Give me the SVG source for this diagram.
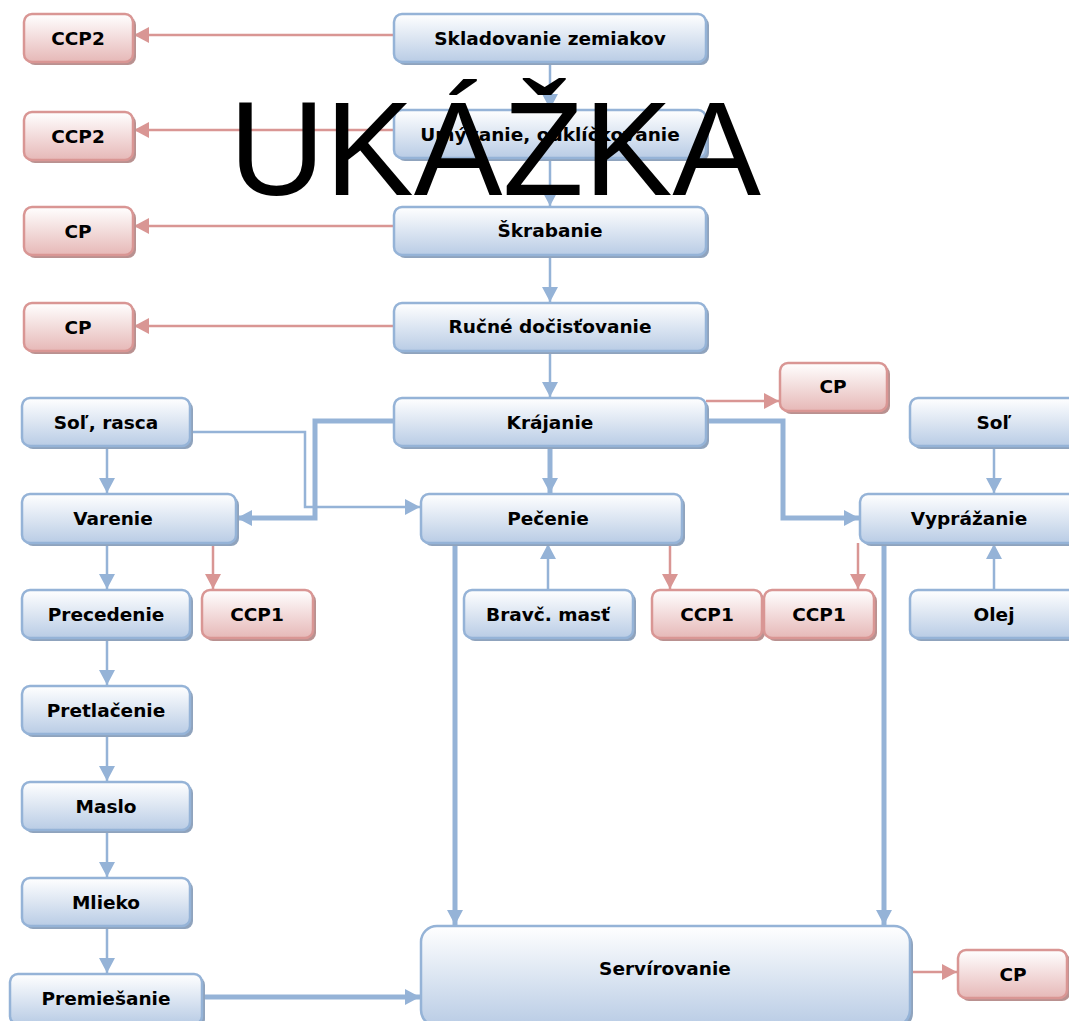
<svg xmlns="http://www.w3.org/2000/svg" width="1069" height="1021" viewBox="0 0 1069 1021">
  <defs>
    <linearGradient id="gBlue" x1="0" y1="0" x2="0" y2="1">
      <stop offset="0" stop-color="#ffffff"/>
      <stop offset="1" stop-color="#b9cce5"/>
    </linearGradient>
    <linearGradient id="gRed" x1="0" y1="0" x2="0" y2="1">
      <stop offset="0" stop-color="#ffffff"/>
      <stop offset="1" stop-color="#e6b8b7"/>
    </linearGradient>
    <marker id="aBlue" markerUnits="userSpaceOnUse" markerWidth="16" markerHeight="16" refX="15" refY="8" orient="auto">
      <path d="M0,0 L15,8 L0,16 z" fill="#95b3d7"/>
    </marker>
    <marker id="aRed" markerUnits="userSpaceOnUse" markerWidth="16" markerHeight="16" refX="15" refY="8" orient="auto">
      <path d="M0,0 L15,8 L0,16 z" fill="#d99694"/>
    </marker>
  </defs>
  <style>
    .sb { fill: #8fa3bd; }
    .sr { fill: #b99190; }
    .b { fill: url(#gBlue); stroke: #95b3d7; stroke-width: 2.5; }
    .r { fill: url(#gRed); stroke: #d99694; stroke-width: 2.5; }
    text { font-family: "DejaVu Sans", Verdana, sans-serif; font-weight: bold; font-size: 18.5px; fill: #000; text-anchor: middle; }
    .cb { fill: none; stroke: #95b3d7; stroke-width: 2.5; }
    .ct { fill: none; stroke: #95b3d7; stroke-width: 5; }
    .cr { fill: none; stroke: #d99694; stroke-width: 2.5; }
    .wm { font-family: "Liberation Sans", Arial, sans-serif; font-weight: normal; font-size: 133px; }
  </style>

  <rect width="1069" height="1021" fill="#ffffff"/>

  <!-- connectors -->
  <g id="connectors">
    <!-- main chain -->
    <path class="cb" d="M550,62 V109" marker-end="url(#aBlue)"/>
    <path class="cb" d="M550,158 V206" marker-end="url(#aBlue)"/>
    <path class="cb" d="M550,255 V302" marker-end="url(#aBlue)"/>
    <path class="cb" d="M550,351 V397" marker-end="url(#aBlue)"/>
    <!-- control points on the left -->
    <path class="cr" d="M394,35 H134" marker-end="url(#aRed)"/>
    <path class="cr" d="M394,130 H134" marker-end="url(#aRed)"/>
    <path class="cr" d="M394,226 H134" marker-end="url(#aRed)"/>
    <path class="cr" d="M394,326 H134" marker-end="url(#aRed)"/>
    <!-- Krájanie -->
    <path class="cr" d="M706,401 H779" marker-end="url(#aRed)"/>
    <path class="ct" d="M550,446 V493" marker-end="url(#aBlue)"/>
    <path class="ct" d="M394,421 H315 V518 H237" marker-end="url(#aBlue)"/>
    <path class="ct" d="M706,421 H783 V518 H859" marker-end="url(#aBlue)"/>
    <!-- Soľ, rasca -->
    <path class="cb" d="M190,432 H305 V507 H420" marker-end="url(#aBlue)"/>
    <path class="cb" d="M107,446 V493" marker-end="url(#aBlue)"/>
    <!-- Varenie branch -->
    <path class="cb" d="M107,543 V589" marker-end="url(#aBlue)"/>
    <path class="cr" d="M213,543 V589" marker-end="url(#aRed)"/>
    <path class="cb" d="M107,638 V685" marker-end="url(#aBlue)"/>
    <path class="cb" d="M107,734 V781" marker-end="url(#aBlue)"/>
    <path class="cb" d="M107,830 V877" marker-end="url(#aBlue)"/>
    <path class="cb" d="M107,926 V973" marker-end="url(#aBlue)"/>
    <path class="ct" d="M202,997 H420" marker-end="url(#aBlue)"/>
    <!-- Pečenie -->
    <path class="cb" d="M548,590 V544" marker-end="url(#aBlue)"/>
    <path class="cr" d="M670,543 V589" marker-end="url(#aRed)"/>
    <path class="ct" d="M455,543 V925" marker-end="url(#aBlue)"/>
    <!-- Vyprážanie -->
    <path class="cb" d="M994,446 V493" marker-end="url(#aBlue)"/>
    <path class="cb" d="M994,590 V544" marker-end="url(#aBlue)"/>
    <path class="cr" d="M858,543 V589" marker-end="url(#aRed)"/>
    <path class="ct" d="M884,543 V925" marker-end="url(#aBlue)"/>
    <!-- Servírovanie -->
    <path class="cr" d="M910,972 H957" marker-end="url(#aRed)"/>
  </g>

  <!-- process steps -->
  <g id="skladovanie"><rect class="sb" x="397" y="17" width="312" height="48" rx="8"/><rect class="b" x="394" y="14" width="312" height="48" rx="8"/><text x="550" y="45">Skladovanie zemiakov</text></g>
  <g id="umyvanie"><rect class="sb" x="397" y="113" width="312" height="48" rx="8"/><rect class="b" x="394" y="110" width="312" height="48" rx="8"/><text x="550" y="141">Umývanie, odklíčkovanie</text></g>
  <g id="skrabanie"><rect class="sb" x="397" y="210" width="312" height="48" rx="8"/><rect class="b" x="394" y="207" width="312" height="48" rx="8"/><text x="550" y="237">Škrabanie</text></g>
  <g id="docistovanie"><rect class="sb" x="397" y="306" width="312" height="48" rx="8"/><rect class="b" x="394" y="303" width="312" height="48" rx="8"/><text x="550" y="333">Ručné dočisťovanie</text></g>
  <g id="krajanie"><rect class="sb" x="397" y="401" width="312" height="48" rx="8"/><rect class="b" x="394" y="398" width="312" height="48" rx="8"/><text x="550" y="429">Krájanie</text></g>
  <g id="pecenie"><rect class="sb" x="424" y="497" width="261" height="49" rx="8"/><rect class="b" x="421" y="494" width="261" height="49" rx="8"/><text x="548" y="525">Pečenie</text></g>
  <g id="vyprazanie"><rect class="sb" x="863" y="497" width="218" height="49" rx="8"/><rect class="b" x="860" y="494" width="218" height="49" rx="8"/><text x="969" y="525">Vyprážanie</text></g>
  <g id="sol"><rect class="sb" x="913" y="401" width="168" height="48" rx="8"/><rect class="b" x="910" y="398" width="168" height="48" rx="8"/><text x="994" y="429">Soľ</text></g>
  <g id="olej"><rect class="sb" x="913" y="593" width="168" height="48" rx="8"/><rect class="b" x="910" y="590" width="168" height="48" rx="8"/><text x="994" y="621">Olej</text></g>
  <g id="bravcova-mast"><rect class="sb" x="467" y="593" width="169" height="48" rx="8"/><rect class="b" x="464" y="590" width="169" height="48" rx="8"/><text x="548" y="621">Bravč. masť</text></g>
  <g id="sol-rasca"><rect class="sb" x="25" y="401" width="168" height="48" rx="8"/><rect class="b" x="22" y="398" width="168" height="48" rx="8"/><text x="106" y="429">Soľ, rasca</text></g>
  <g id="varenie"><rect class="sb" x="25" y="497" width="214" height="49" rx="8"/><rect class="b" x="22" y="494" width="214" height="49" rx="8"/><text x="113" y="525">Varenie</text></g>
  <g id="precedenie"><rect class="sb" x="25" y="593" width="168" height="48" rx="8"/><rect class="b" x="22" y="590" width="168" height="48" rx="8"/><text x="106" y="621">Precedenie</text></g>
  <g id="pretlacenie"><rect class="sb" x="25" y="689" width="168" height="48" rx="8"/><rect class="b" x="22" y="686" width="168" height="48" rx="8"/><text x="106" y="717">Pretlačenie</text></g>
  <g id="maslo"><rect class="sb" x="25" y="785" width="168" height="48" rx="8"/><rect class="b" x="22" y="782" width="168" height="48" rx="8"/><text x="106" y="813">Maslo</text></g>
  <g id="mlieko"><rect class="sb" x="25" y="881" width="168" height="48" rx="8"/><rect class="b" x="22" y="878" width="168" height="48" rx="8"/><text x="106" y="909">Mlieko</text></g>
  <g id="premiesanie"><rect class="sb" x="13" y="977" width="192" height="50" rx="8"/><rect class="b" x="10" y="974" width="192" height="50" rx="8"/><text x="106" y="1005">Premiešanie</text></g>
  <g id="servirovanie"><rect class="sb" x="424" y="929" width="489" height="100" rx="16"/><rect class="b" x="421" y="926" width="489" height="100" rx="16"/><text x="665" y="975">Servírovanie</text></g>

  <!-- control points -->
  <g id="ccp2-a"><rect class="sr" x="27" y="17" width="109" height="48" rx="8"/><rect class="r" x="24" y="14" width="109" height="48" rx="8"/><text x="78" y="45">CCP2</text></g>
  <g id="ccp2-b"><rect class="sr" x="27" y="115" width="109" height="48" rx="8"/><rect class="r" x="24" y="112" width="109" height="48" rx="8"/><text x="78" y="143">CCP2</text></g>
  <g id="cp-a"><rect class="sr" x="27" y="210" width="109" height="48" rx="8"/><rect class="r" x="24" y="207" width="109" height="48" rx="8"/><text x="78" y="238">CP</text></g>
  <g id="cp-b"><rect class="sr" x="27" y="306" width="109" height="48" rx="8"/><rect class="r" x="24" y="303" width="109" height="48" rx="8"/><text x="78" y="334">CP</text></g>
  <g id="cp-c"><rect class="sr" x="783" y="366" width="107" height="48" rx="8"/><rect class="r" x="780" y="363" width="107" height="48" rx="8"/><text x="833" y="393">CP</text></g>
  <g id="ccp1-a"><rect class="sr" x="205" y="593" width="111" height="48" rx="8"/><rect class="r" x="202" y="590" width="111" height="48" rx="8"/><text x="257" y="621">CCP1</text></g>
  <g id="ccp1-b"><rect class="sr" x="655" y="593" width="110" height="48" rx="8"/><rect class="r" x="652" y="590" width="110" height="48" rx="8"/><text x="707" y="621">CCP1</text></g>
  <g id="ccp1-c"><rect class="sr" x="767" y="593" width="110" height="48" rx="8"/><rect class="r" x="764" y="590" width="110" height="48" rx="8"/><text x="819" y="621">CCP1</text></g>
  <g id="cp-d"><rect class="sr" x="961" y="953" width="109" height="48" rx="8"/><rect class="r" x="958" y="950" width="109" height="48" rx="8"/><text x="1013" y="981">CP</text></g>

  <!-- watermark -->
  <text class="wm" x="495" y="195">UKÁŽKA</text>
</svg>
